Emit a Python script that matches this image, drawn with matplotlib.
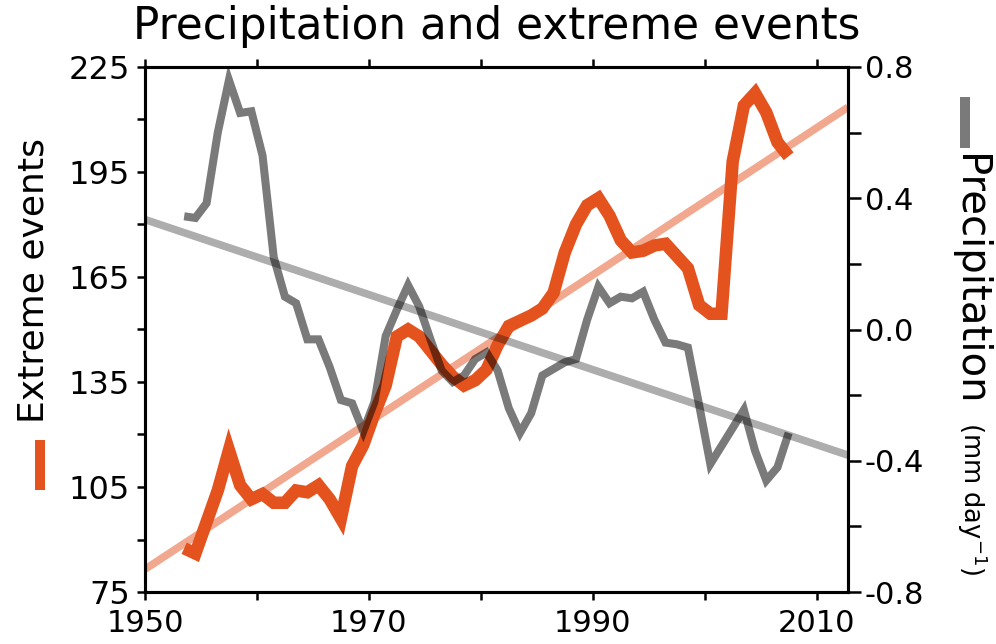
import numpy as np
import matplotlib
matplotlib.use("Agg")
import matplotlib.pyplot as plt
from matplotlib.patches import Rectangle

# Annual series (plotted at mid-year)
years = list(range(1953, 2008))
extreme_events = [87.5, 86, 95, 104, 115.5, 105.5, 101.5, 103, 100.5, 100.5,
                  104, 103.5, 105.5, 101.5, 96, 111, 117, 126, 134, 148,
                  150, 148, 144, 140, 136.5, 134, 135.5, 138.5, 145.5, 151,
                  152.5, 154, 156, 160.5, 172, 180, 185.5, 187.5, 182.5, 175.5,
                  172, 172.5, 174, 174.5, 171, 167.5, 157, 154.5, 154.5, 198,
                  214, 217.5, 212, 203.5, 199.5]
precipitation = [0.345, 0.34, 0.385, 0.60, 0.76, 0.66, 0.665, 0.53, 0.22, 0.10,
                 0.08, -0.03, -0.03, -0.115, -0.215, -0.225, -0.31, -0.22, -0.02, 0.06,
                 0.135, 0.07, -0.03, -0.125, -0.16, -0.14, -0.09, -0.07, -0.125, -0.24,
                 -0.315, -0.255, -0.14, -0.12, -0.10, -0.09, 0.03, 0.13, 0.08, 0.10,
                 0.095, 0.115, 0.03, -0.04, -0.045, -0.055, -0.23, -0.41, -0.355, -0.30,
                 -0.245, -0.37, -0.46, -0.42, -0.315]

# Linear trends, given by their values at the two ends of the time axis
trend_years = [1950, 2012.8]
events_trend = [81.5, 213.5]
precip_trend = [0.335, -0.383]

# Axis ticks and labels
x_ticks = [1950, 1960, 1970, 1980, 1990, 2000, 2010]
x_labels = ["1950", "", "1970", "", "1990", "", "2010"]
left_ticks = [75, 90, 105, 120, 135, 150, 165, 180, 195, 210, 225]
left_labels = ["75", "", "105", "", "135", "", "165", "", "195", "", "225"]
right_ticks = [-0.8, -0.6, -0.4, -0.2, 0.0, 0.2, 0.4, 0.6, 0.8]
right_labels = ["-0.8", "", "-0.4", "", "0.0", "", "0.4", "", "0.8"]

ORANGE = "#E4521E"
plt.rcParams["font.family"] = ["DejaVu Sans"]

W, H = 996, 644
fig = plt.figure(figsize=(W / 100, H / 100), dpi=100)
ax = fig.add_axes([145 / W, 1 - 592 / H, (848 - 145) / W, (592 - 67) / H])
ax2 = ax.twinx()

x = np.array(years) + 0.5

ax.plot(trend_years, events_trend, color=ORANGE, alpha=0.5, lw=5.5,
        solid_capstyle="butt", zorder=1)
ax.plot(x, extreme_events, color=ORANGE, lw=9, solid_joinstyle="miter",
        solid_capstyle="butt", zorder=2)
ax2.plot(trend_years, precip_trend, color="black", alpha=0.32, lw=5.5,
         solid_capstyle="butt", zorder=1)
ax2.plot(x, precipitation, color="black", alpha=0.52, lw=5.8,
         solid_joinstyle="miter", solid_capstyle="butt", zorder=2)

ax.set_xlim(1950, 2012.8)
ax.set_ylim(75, 225)
ax2.set_ylim(-0.8, 0.8)

ax.set_xticks(x_ticks)
ax.set_xticklabels(x_labels)
ax.set_yticks(left_ticks)
ax.set_yticklabels(left_labels)
ax2.set_yticks(right_ticks)
ax2.set_yticklabels(right_labels)

for a in (ax, ax2):
    for s in a.spines.values():
        s.set_linewidth(2.2)
ax.tick_params(axis="x", which="both", direction="out", length=6, width=1.8,
               top=True, labelsize=22, pad=6)
ax.tick_params(axis="y", direction="out", length=6, width=1.8, labelsize=23, pad=5)
ax2.tick_params(axis="y", direction="out", length=9, width=1.8, labelsize=22, pad=3)

# Title
fig.text(496.5 / W, 1 - 27 / H, "Precipitation and extreme events",
         ha="center", va="center", fontsize=31.5)

# Left axis label with colour key
fig.text(33 / W, 1 - 423 / H, "Extreme events", rotation=90,
         ha="center", va="bottom", fontsize=26)
fig.patches.append(Rectangle((35 / W, 1 - 490 / H), 10 / W, 50 / H,
                             transform=fig.transFigure, color=ORANGE, lw=0))

# Right axis label with colour key
fig.text(969 / W, 1 - 154 / H, "Precipitation", rotation=-90,
         ha="center", va="top", fontsize=29)
fig.text(972 / W, 1 - 422 / H, "(mm day$^{-1}$)", rotation=-90,
         ha="center", va="top", fontsize=18.5)
fig.patches.append(Rectangle((960 / W, 1 - 148 / H), 10 / W, 51 / H,
                             transform=fig.transFigure, color="#7a7a7a", lw=0))

fig.savefig("out.png", dpi=100)
